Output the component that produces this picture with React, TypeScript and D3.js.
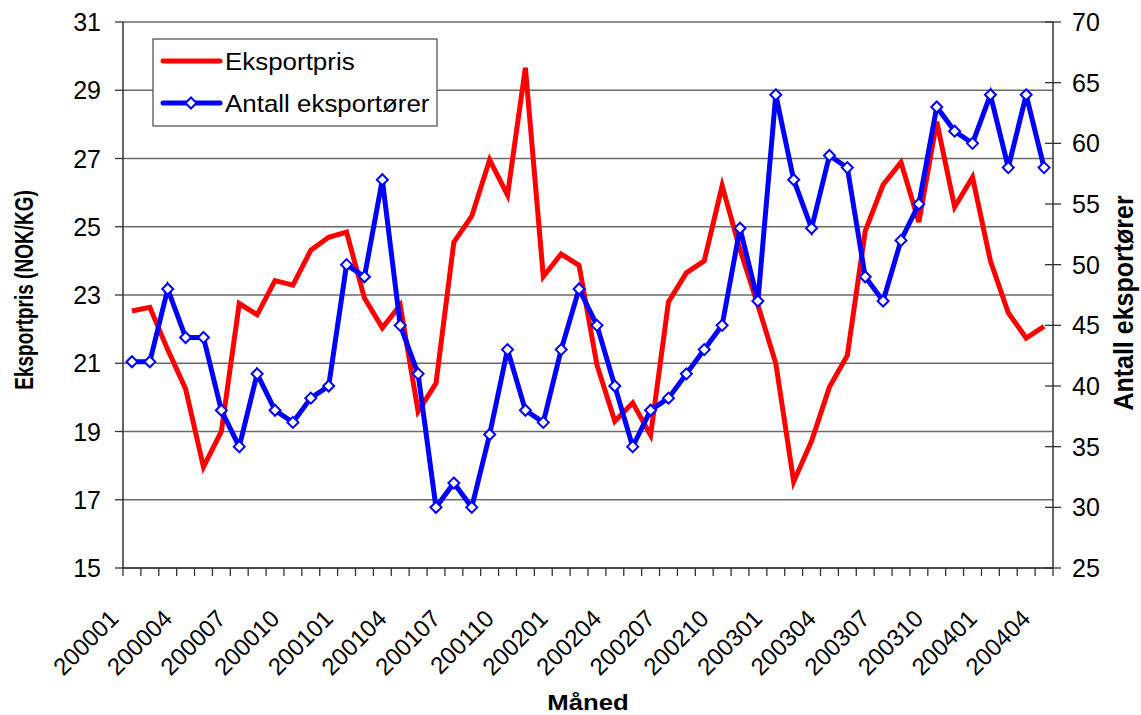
import React from "react";
import * as d3 from "d3";

const months: string[] = [
  "200001","200002","200003","200004","200005","200006","200007","200008","200009","200010","200011","200012",
  "200101","200102","200103","200104","200105","200106","200107","200108","200109","200110","200111","200112",
  "200201","200202","200203","200204","200205","200206","200207","200208","200209","200210","200211","200212",
  "200301","200302","200303","200304","200305","200306","200307","200308","200309","200310","200311","200312",
  "200401","200402","200403","200404",
];

const eksportpris: number[] = [
  22.53, 22.64, 21.4, 20.25, 17.96, 19.0, 22.75, 22.42, 23.42, 23.29, 24.31, 24.69,
  24.84, 22.91, 22.04, 22.7, 19.59, 20.41, 24.55, 25.31, 26.96, 25.93, 29.66, 23.54,
  24.2, 23.87, 20.95, 19.3, 19.84, 18.89, 22.8, 23.65, 24.0, 26.2, 24.33, 22.7,
  21.0, 17.53, 18.72, 20.3, 21.23, 24.87, 26.23, 26.89, 25.14, 28.08, 25.58, 26.45,
  24.0, 22.48, 21.74, 22.08,
];

const antallEksportorer: number[] = [
  42, 42, 48, 44, 44, 38, 35, 41, 38, 37, 39, 40,
  50, 49, 57, 45, 41, 30, 32, 30, 36, 43, 38, 37,
  43, 48, 45, 40, 35, 38, 39, 41, 43, 45, 53, 47,
  64, 57, 53, 59, 58, 49, 47, 52, 55, 63, 61, 60,
  64, 58, 64, 58,
];

const leftTicks: number[] = [15, 17, 19, 21, 23, 25, 27, 29, 31];
const rightTicks: number[] = [25, 30, 35, 40, 45, 50, 55, 60, 65, 70];
const xLabelMonths: string[] = [
  "200001","200004","200007","200010","200101","200104","200107","200110","200201",
  "200204","200207","200210","200301","200304","200307","200310","200401","200404",
];

const W = 1141;
const H = 715;
const L = 123, R = 1053, T = 22, B = 568;
const FONT = "'Liberation Sans', Arial, Helvetica, sans-serif";

export default function App() {
  const x = d3.scaleBand<string>().domain(months).range([L, R]);
  const bw = x.bandwidth();
  const cx = (m: string) => (x(m) as number) + bw / 2;
  const yL = d3.scaleLinear().domain([15, 31]).range([B, T]);
  const yR = d3.scaleLinear().domain([25, 70]).range([B, T]);

  const redLine = d3.line<number>().x((_, i) => cx(months[i])).y((d) => yL(d))(eksportpris) || "";
  const blueLine = d3.line<number>().x((_, i) => cx(months[i])).y((d) => yR(d))(antallEksportorer) || "";

  const diamond = (px: number, py: number, r: number) =>
    `M${px},${py - r}L${px + r},${py}L${px},${py + r}L${px - r},${py}Z`;

  const boundaries = [...months.map((m) => x(m) as number), R];

  return (
    <svg width={W} height={H} style={{ position: "absolute", left: 0, top: 0, background: "#fff" }} fontFamily={FONT}>
      <rect x={0} y={0} width={W} height={H} fill="#fff" />
      {/* gridlines */}
      {leftTicks.map((t) => (
        <line key={"g" + t} x1={L} x2={R} y1={yL(t)} y2={yL(t)} stroke="#6a6a6a" strokeWidth={1.3} />
      ))}
      {/* left axis */}
      <line x1={L} x2={L} y1={T} y2={B} stroke="#333" strokeWidth={1.5} />
      {leftTicks.map((t) => (
        <g key={"lt" + t}>
          <line x1={L - 8} x2={L} y1={yL(t)} y2={yL(t)} stroke="#333" strokeWidth={1.3} />
          <text x={101} y={yL(t)} textAnchor="end" dominantBaseline="central" fontSize={25} fill="#000">
            {t}
          </text>
        </g>
      ))}
      {/* right axis */}
      <line x1={R} x2={R} y1={T} y2={B} stroke="#333" strokeWidth={1.5} />
      {rightTicks.map((t) => (
        <g key={"rt" + t}>
          <line x1={R - 8} x2={R + 8} y1={yR(t)} y2={yR(t)} stroke="#333" strokeWidth={1.3} />
          <text x={1072} y={yR(t)} textAnchor="start" dominantBaseline="central" fontSize={25} fill="#000">
            {t}
          </text>
        </g>
      ))}
      {/* bottom axis */}
      <line x1={L} x2={R} y1={B} y2={B} stroke="#333" strokeWidth={1.5} />
      {boundaries.map((bx, i) => (
        <line key={"xt" + i} x1={bx} x2={bx} y1={B} y2={B + 8} stroke="#333" strokeWidth={1.3} />
      ))}
      {xLabelMonths.map((m) => (
        <text
          key={"xl" + m}
          transform={`translate(${cx(m) - 12},${620}) rotate(-45)`}
          textAnchor="end"
          fontSize={24}
          fill="#000"
        >
          {m}
        </text>
      ))}
      {/* axis titles */}
      <text transform="translate(33,290) scale(1.4,1) rotate(-90)" textAnchor="middle" fontSize={19} fontWeight="bold" fill="#000">
        Eksportpris (NOK/KG)
      </text>
      <text transform="translate(1133,303) scale(1.1,1) rotate(-90)" textAnchor="middle" fontSize={25} fontWeight="bold" fill="#000">
        Antall eksportører
      </text>
      <text transform="translate(588,710) scale(1.12,1)" textAnchor="middle" fontSize={23} fontWeight="bold" fill="#000">
        Måned
      </text>
      {/* series */}
      <path d={redLine} fill="none" stroke="#ff0000" strokeWidth={5} strokeLinejoin="miter" />
      <path d={blueLine} fill="none" stroke="#0000ff" strokeWidth={5} strokeLinejoin="miter" />
      {antallEksportorer.map((v, i) => (
        <path
          key={"d" + i}
          d={diamond(cx(months[i]), yR(v), 5.5)}
          fill="#fff"
          stroke="#0000ff"
          strokeWidth={2}
        />
      ))}
      {/* legend */}
      <rect x={153} y={39} width={284} height={87} fill="#fff" stroke="#555" strokeWidth={1.3} />
      <line x1={163} x2={220} y1={61} y2={61} stroke="#ff0000" strokeWidth={5} strokeLinecap="round" />
      <text transform="translate(225,61) scale(1.08,1)" dominantBaseline="central" fontSize={24} fill="#000">
        Eksportpris
      </text>
      <line x1={163} x2={220} y1={103} y2={103} stroke="#0000ff" strokeWidth={5} strokeLinecap="round" />
      <path d={diamond(191, 103, 5.5)} fill="#fff" stroke="#0000ff" strokeWidth={2} />
      <text transform="translate(225,103) scale(1.08,1)" dominantBaseline="central" fontSize={24} fill="#000">
        Antall eksportører
      </text>
    </svg>
  );
}
